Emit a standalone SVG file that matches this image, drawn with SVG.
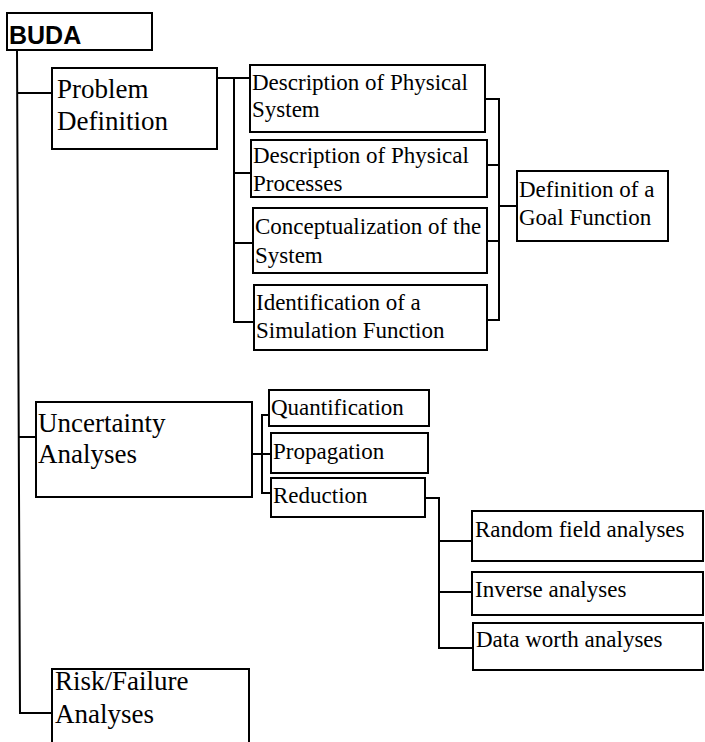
<svg xmlns="http://www.w3.org/2000/svg" width="705" height="742" viewBox="0 0 705 742">
<style>
.box{fill:#fff;stroke:#000;stroke-width:2}
.l1{font-family:"Liberation Serif","Times New Roman",serif;font-size:27px;fill:#000}
.l2{font-family:"Liberation Serif","Times New Roman",serif;font-size:23px;fill:#000}
.root{font-family:"Liberation Sans",Arial,sans-serif;font-size:25px;font-weight:bold;fill:#000}
.c{fill:none;stroke:#000;stroke-width:2}
</style>
<rect width="705" height="742" fill="#fff"/>
<g id="connectors">
<path class="c" d="M17,50 L20,713 L52,713"/>
<path class="c" d="M17,93 L52,93"/>
<path class="c" d="M18,437 L36,437"/>
<path class="c" d="M217,78 L250,78 M234,78 L234,322 L254,322 M234,173 L250,173 M234,243 L253,243"/>
<path class="c" d="M485,99 L499,99 L499,320 L487,320 M487,165 L499,165 M487,241 L499,241 M499,206 L517,206"/>
<path class="c" d="M252,454 L271,454 M269,415 L262,415 L262,493 L271,493"/>
<path class="c" d="M425,498 L439,498 L439,648 L473,648 M439,541 L472,541 M439,592 L472,592"/>
</g>
<g id="buda">
<rect class="box" x="7" y="13" width="145" height="37"/>
<text class="root" x="9" y="44">BUDA</text>
</g>
<g id="problem-definition">
<rect class="box" x="52" y="68" width="165" height="81"/>
<text class="l1" x="57" y="98">Problem</text>
<text class="l1" x="57" y="130">Definition</text>
</g>
<g id="desc-system">
<rect class="box" x="250" y="65" width="235" height="67"/>
<text class="l2" x="252" y="90">Description of Physical</text>
<text class="l2" x="252" y="117">System</text>
</g>
<g id="desc-processes">
<rect class="box" x="251" y="140" width="236" height="57"/>
<text class="l2" x="253" y="163">Description of Physical</text>
<text class="l2" x="253" y="191">Processes</text>
</g>
<g id="conceptualization">
<rect class="box" x="253" y="208" width="234" height="65"/>
<text class="l2" x="255" y="234">Conceptualization of the</text>
<text class="l2" x="255" y="263">System</text>
</g>
<g id="identification">
<rect class="box" x="254" y="285" width="233" height="65"/>
<text class="l2" x="256" y="310">Identification of a</text>
<text class="l2" x="256" y="338">Simulation Function</text>
</g>
<g id="goal-function">
<rect class="box" x="517" y="171" width="151" height="70"/>
<text class="l2" x="519" y="197">Definition of a</text>
<text class="l2" x="519" y="225">Goal Function</text>
</g>
<g id="uncertainty-analyses">
<rect class="box" x="36" y="402" width="216" height="95"/>
<text class="l1" x="38" y="432">Uncertainty</text>
<text class="l1" x="38" y="463">Analyses</text>
</g>
<g id="quantification">
<rect class="box" x="269" y="390" width="160" height="36"/>
<text class="l2" x="271" y="415">Quantification</text>
</g>
<g id="propagation">
<rect class="box" x="271" y="433" width="157" height="40"/>
<text class="l2" x="273" y="459">Propagation</text>
</g>
<g id="reduction">
<rect class="box" x="271" y="478" width="154" height="39"/>
<text class="l2" x="273" y="503">Reduction</text>
</g>
<g id="random-field">
<rect class="box" x="472" y="511" width="231" height="50"/>
<text class="l2" x="475" y="537">Random field analyses</text>
</g>
<g id="inverse">
<rect class="box" x="472" y="572" width="231" height="43"/>
<text class="l2" x="475" y="597">Inverse analyses</text>
</g>
<g id="data-worth">
<rect class="box" x="473" y="623" width="230" height="47"/>
<text class="l2" x="476" y="647">Data worth analyses</text>
</g>
<g id="risk-failure">
<rect class="box" x="52" y="669" width="197" height="80"/>
<text class="l1" x="55" y="690">Risk/Failure</text>
<text class="l1" x="55" y="723">Analyses</text>
</g>
</svg>
